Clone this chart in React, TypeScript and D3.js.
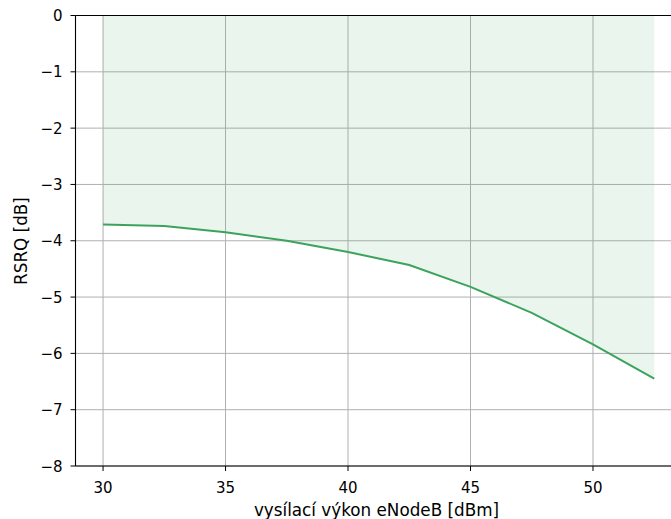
import React from "react";
import * as d3 from "d3";

// transmit power of the eNodeB (dBm) and resulting RSRQ (dB)
const powerDbm = [30, 32.5, 35, 37.5, 40, 42.5, 45, 47.5, 50, 52.5];
const rsrqDb = [-3.71, -3.74, -3.85, -4.0, -4.2, -4.43, -4.82, -5.28, -5.84, -6.45];
const xTicks = [30, 35, 40, 45, 50];
const yTicks = [0, -1, -2, -3, -4, -5, -6, -7, -8];

const W = 671;
const H = 519;
const left = 75.5;
const top = 15.5;
const bottom = 466;
const lineColor = "#3ca35d";
const font = "DejaVu Sans, sans-serif";
const tickSize = 15;
const labelSize = 16.8;

export default function App() {
  const pad = (52.5 - 30) * 0.05;
  const x = d3.scaleLinear().domain([30 - pad, 52.5 + pad]).range([left, 681.8]);
  const y = d3.scaleLinear().domain([0, -8]).range([top, bottom]);
  const pts = powerDbm.map((p, i) => [p, rsrqDb[i]] as [number, number]);
  const line = d3.line<[number, number]>().x((d) => x(d[0])).y((d) => y(d[1]));
  const area = d3
    .area<[number, number]>()
    .x((d) => x(d[0]))
    .y0(() => y(0))
    .y1((d) => y(d[1]));
  const minus = (v: number) => (v < 0 ? "\u2212" + Math.abs(v) : String(v));

  return (
    <svg width={W} height={H} style={{ position: "absolute", left: 0, top: 0, background: "#fff" }}>
      {/* grid */}
      {xTicks.map((t) => (
        <line key={"gx" + t} x1={x(t)} x2={x(t)} y1={top} y2={bottom} stroke="#b0b0b0" strokeWidth={1} />
      ))}
      {yTicks.map((t) => (
        <line key={"gy" + t} x1={left} x2={W} y1={y(t)} y2={y(t)} stroke="#b0b0b0" strokeWidth={1} />
      ))}
      {/* shaded region between curve and 0 dB */}
      <path d={area(pts) ?? ""} fill={lineColor} fillOpacity={0.11} />
      <path d={line(pts) ?? ""} fill="none" stroke={lineColor} strokeWidth={2} />
      {/* spines */}
      <line x1={left} x2={left} y1={top} y2={bottom} stroke="#000" strokeWidth={1.1} />
      <line x1={left} x2={W} y1={bottom} y2={bottom} stroke="#000" strokeWidth={1.1} />
      <line x1={left} x2={W} y1={top} y2={top} stroke="#000" strokeWidth={1.1} />
      {/* x ticks */}
      {xTicks.map((t) => (
        <g key={"tx" + t}>
          <line x1={x(t)} x2={x(t)} y1={bottom} y2={bottom + 5} stroke="#000" strokeWidth={1} />
          <text x={x(t)} y={492.5} textAnchor="middle" fontFamily={font} fontSize={tickSize} fill="#000">
            {t}
          </text>
        </g>
      ))}
      {/* y ticks */}
      {yTicks.map((t) => (
        <g key={"ty" + t}>
          <line x1={left - 5} x2={left} y1={y(t)} y2={y(t)} stroke="#000" strokeWidth={1} />
          <text x={left - 13} y={y(t) + 5.5} textAnchor="end" fontFamily={font} fontSize={tickSize} fill="#000">
            {minus(t)}
          </text>
        </g>
      ))}
      <text x={376.5} y={516} textAnchor="middle" fontFamily={font} fontSize={labelSize} fill="#000">
        vysílací výkon eNodeB [dBm]
      </text>
      <text
        transform={`translate(${27},${241}) rotate(-90)`}
        textAnchor="middle"
        fontFamily={font}
        fontSize={labelSize}
        fill="#000"
      >
        RSRQ [dB]
      </text>
    </svg>
  );
}
